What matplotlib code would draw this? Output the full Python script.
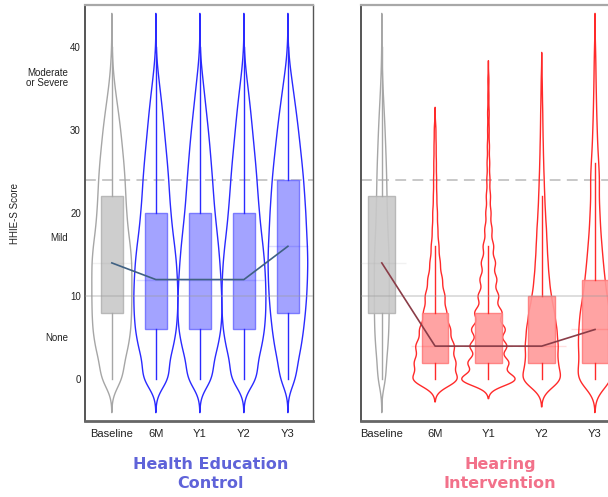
import numpy as np
import matplotlib
matplotlib.use("Agg")
import matplotlib.pyplot as plt

# ── data ──────────────────────────────────────────────────────────────────────
SCORES = np.arange(0, 42, 2)                 # HHIE-S takes even values 0..40
TIMEPOINTS = ["Baseline", "6M", "Y1", "Y2", "Y3"]

# relative frequency of each score (0, 2, ..., 40)
BASE_FREQ = [.48, .53, .72, .82, .85, .86, .86, .86, .80, .70, .64,
             .60, .57, .52, .45, .38, .29, .19, .10, .04, .01]
CTRL_6M_FREQ = [.64, .58, .80, .93, .98, 1.0, .97, .93, .85, .75, .68,
                .62, .58, .52, .45, .38, .31, .23, .14, .06, .01]
CTRL_Y1_FREQ = [.60, .60, .82, .95, 1.0, .98, .95, .90, .84, .76, .68,
                .62, .57, .51, .45, .38, .30, .22, .14, .06, .01]
CTRL_Y2_FREQ = [.62, .60, .80, .92, .97, .98, .96, .92, .85, .76, .69,
                .63, .58, .52, .45, .38, .31, .23, .14, .06, .01]
CTRL_Y3_FREQ = [.36, .44, .60, .70, .78, .84, .87, .89, .87, .83, .80,
                .75, .70, .63, .55, .47, .38, .28, .18, .08, .02]
INTV_6M_FREQ = [1.09, .96, .90, .72, .54, .46, .34, .24, .18, .13, .11,
                .08, .07, .06, .05, .04, 0, 0, 0, 0, 0]
INTV_Y1_FREQ = [1.05, .77, .70, .64, .52, .39, .32, .27, .20, .14, .10,
                .08, .06, .05, .04, .03, .03, .02, .02, 0, 0]
INTV_Y2_FREQ = [1.21, .89, .94, .86, .73, .54, .43, .36, .31, .27, .21,
                .17, .14, .11, .09, .07, .06, .04, .03, 0, 0]
INTV_Y3_FREQ = [1.19, .88, 1.0, .95, .89, .70, .59, .49, .41, .33, .29,
                .24, .27, .22, .16, .13, .10, .08, .06, .05, .03]

CTRL_FREQ = [BASE_FREQ, CTRL_6M_FREQ, CTRL_Y1_FREQ, CTRL_Y2_FREQ, CTRL_Y3_FREQ]
INTV_FREQ = [BASE_FREQ, INTV_6M_FREQ, INTV_Y1_FREQ, INTV_Y2_FREQ, INTV_Y3_FREQ]

# box stats: (lower whisker, q1, median, q3, upper whisker)
CTRL_BOX = [(0, 8, 14, 22, 40), (0, 6, 12, 20, 40), (0, 6, 12, 20, 40),
            (0, 6, 12, 20, 40), (0, 8, 16, 24, 40)]
INTV_BOX = [(0, 8, 14, 22, 40), (0, 2, 4, 8, 16), (0, 2, 4, 8, 16),
            (0, 2, 4, 10, 22), (0, 2, 6, 12, 26)]

SEVERITY_POS = [5, 17, 36.2]
SEVERITY_LABELS = ["None", "Mild", "Moderate\nor Severe"]
MILD_CUT, SEVERE_CUT = 10, 24

# ── style ─────────────────────────────────────────────────────────────────────
CTRL_BW = [1.33, 1.33, 1.33, 1.33, 1.33]      # kde bandwidths
INTV_BW = [1.33, 0.90, 0.77, 1.10, 1.33]
CTRL_VIOLIN_W = [0.91, 1.0, 1.0, 1.0, 0.90]
INTV_VIOLIN_W = [0.28, 0.83, 1.0, 0.70, 0.63]

GRAY = dict(line="#a6a6a6", fill="#c9c9c9", edge="#b3b3b3")
BLUE = dict(line="#2a2aff", fill="#9999ff", edge="#7070ff")
RED = dict(line="#ff2a2a", fill="#ff9999", edge="#ff7c7c")

FONT = "Liberation Sans"


def kde_stats(freq, bw):
    w = np.asarray(freq, float)
    keep = w > 0
    s, w = SCORES[keep], w[keep]
    lo, hi = s.min() - 3 * bw, s.max() + 3 * bw
    coords = np.linspace(lo, hi, 600)
    vals = (w[None, :] * np.exp(-0.5 * ((coords[:, None] - s[None, :]) / bw) ** 2)).sum(1)
    return dict(coords=coords, vals=vals, mean=np.nan, median=np.nan, min=lo, max=hi)


def draw_panel(ax, freqs, bws, vwidths, boxes, colors, link_color, xlim):
    pos = np.arange(1, len(TIMEPOINTS) + 1)

    stats = [kde_stats(f, b) for f, b in zip(freqs, bws)]
    vp = ax.violin(stats, positions=pos, widths=vwidths,
                   showmeans=False, showextrema=False, showmedians=False)
    for body, c in zip(vp["bodies"], colors):
        body.set_facecolor("none")
        body.set_edgecolor(c["line"])
        body.set_linewidth(1.0)
        body.set_alpha(1)
        body.set_zorder(2)

    bstats = [dict(whislo=b[0], q1=b[1], med=b[2], q3=b[3], whishi=b[4], fliers=[])
              for b in boxes]
    bp = ax.bxp(bstats, positions=pos, widths=0.5, patch_artist=True,
                showcaps=False, showfliers=False, manage_ticks=False)
    for i, c in enumerate(colors):
        box = bp["boxes"][i]
        box.set_facecolor(c["fill"])
        box.set_alpha(0.9)
        box.set_edgecolor(c["edge"])
        box.set_linewidth(1.0)
        box.set_zorder(3)
        for wh in bp["whiskers"][2 * i:2 * i + 2]:
            wh.set_color(c["line"])
            wh.set_linewidth(1.0)
            wh.set_zorder(3)
        med = bp["medians"][i]
        med.set_color(c["line"])
        med.set_alpha(0.12)
        med.set_linewidth(1.0)

    medians = [b[2] for b in boxes]
    ax.hlines(medians, pos - 0.45, pos + 0.45, colors=[c["line"] for c in colors],
              alpha=0.15, lw=1.0, zorder=3)
    ax.plot(pos, medians, color=link_color, lw=1.2, zorder=5)

    ax.axhline(SEVERE_CUT, color="#c4c4c4", lw=1.3, ls=(0, (6, 3.5)), zorder=1)
    ax.axhline(MILD_CUT, color="#9a9a9a", lw=1.3, alpha=0.35, zorder=4)

    ax.set_xlim(*xlim)
    ax.set_ylim(-5, 45)
    ax.set_xticks(pos)
    ax.set_xticklabels(TIMEPOINTS, fontsize=8, color="#222222", family=FONT)
    ax.tick_params(axis="both", length=0)
    ax.tick_params(axis="x", pad=6)
    ax.spines["top"].set_color("#a8a8a8")
    ax.spines["top"].set_linewidth(1.6)
    ax.spines["left"].set_color("#555555")
    ax.spines["left"].set_linewidth(1.4)
    ax.spines["bottom"].set_color("#666666")
    ax.spines["bottom"].set_linewidth(2.0)
    ax.spines["right"].set_color("#555555")
    ax.spines["right"].set_linewidth(1.0)


fig = plt.figure(figsize=(6.08, 4.97), dpi=100)
fig.patch.set_facecolor("white")

ax1 = fig.add_axes([85 / 608, 76 / 497, 228 / 608, 416 / 497])
ax2 = fig.add_axes([361 / 608, 76 / 497, 266 / 608, 416 / 497])

draw_panel(ax1, CTRL_FREQ, CTRL_BW, CTRL_VIOLIN_W, CTRL_BOX,
           [GRAY, BLUE, BLUE, BLUE, BLUE], "#3f6183", (0.39, 5.57))
draw_panel(ax2, INTV_FREQ, INTV_BW, INTV_VIOLIN_W, INTV_BOX,
           [GRAY, RED, RED, RED, RED], "#8a3d48", (0.61, 5.6))

ax1.set_yticks([0, 10, 20, 30, 40])
ax1.set_yticklabels(["0", "10", "20", "30", "40"], fontsize=7, color="#222222",
                    family=FONT)
ax1.tick_params(axis="y", pad=3)
for yv, lab in zip(SEVERITY_POS, SEVERITY_LABELS):
    ax1.text(-0.075, yv, lab, transform=ax1.get_yaxis_transform(),
             ha="right", va="center", fontsize=7, color="#222222",
             family=FONT, linespacing=1.0)
ax2.set_yticks([])

fig.text(15 / 608, (497 - 213) / 497, "HHIE-S Score", rotation=90,
         ha="center", va="center", fontsize=7, color="#222222", family=FONT)

fig.text(211 / 608, (497 - 474) / 497, "Health Education\nControl",
         ha="center", va="center", fontsize=11.5, fontweight="bold",
         color="#5f63d9", linespacing=1.3, family="DejaVu Sans")
fig.text(500 / 608, (497 - 474) / 497, "Hearing\nIntervention",
         ha="center", va="center", fontsize=11.5, fontweight="bold",
         color="#f2718a", linespacing=1.3, family="DejaVu Sans")

fig.savefig("out.png", dpi=100, facecolor="white")
